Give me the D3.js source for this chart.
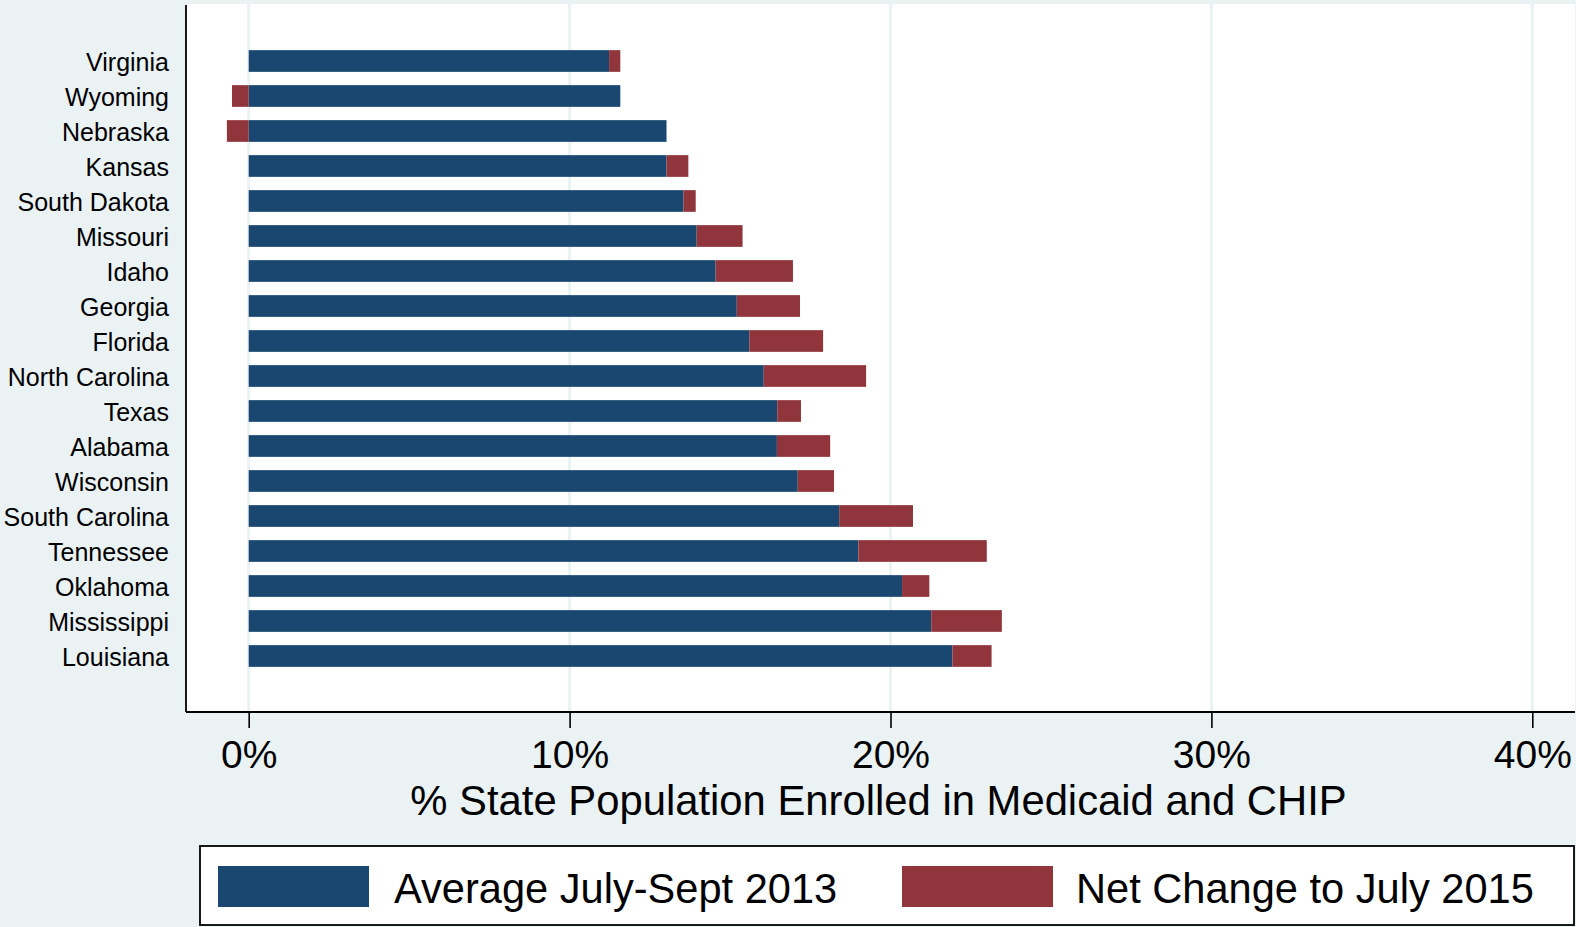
<!DOCTYPE html>
<html>
<head>
<meta charset="utf-8">
<script src="https://cdn.jsdelivr.net/npm/d3@7"></script>
<style>
  body { margin: 0; background: #eaf2f3; }
  svg { display: block; font-family: "Liberation Sans", Arial, sans-serif; }
</style>
</head>
<body>
<div class="chart"></div>
<script>
const states = [
  "Virginia", "Wyoming", "Nebraska", "Kansas", "South Dakota", "Missouri",
  "Idaho", "Georgia", "Florida", "North Carolina", "Texas", "Alabama",
  "Wisconsin", "South Carolina", "Tennessee", "Oklahoma", "Mississippi", "Louisiana"
];
// % of state population enrolled, average July-Sept 2013
const avg2013 = [
  11.23, 11.58, 13.02, 13.02, 13.55, 13.96,
  14.55, 15.21, 15.60, 16.05, 16.47, 16.46,
  17.11, 18.40, 19.00, 20.36, 21.27, 21.93
];
// net change to July 2015 (percentage points)
const netChange = [
  0.35, -0.52, -0.68, 0.68, 0.38, 1.43,
  2.41, 1.97, 2.30, 3.19, 0.74, 1.66,
  1.13, 2.30, 4.00, 0.85, 2.20, 1.22
];
const xTicks = [0, 10, 20, 30, 40];
const seriesNames = ["Average July-Sept 2013", "Net Change to July 2015"];
const seriesColors = ["#1a476f", "#90353b"];

const width = 1576;
const height = 927;

const plot = { left: 186, right: 1575, top: 4, bottom: 712 };

const rows = states.map((s, i) => ({ state: s, base: avg2013[i], change: netChange[i] }));

const x = d3.scaleLinear().domain([0, 40]).range([248.7, 1532.3]);
const y = d3.scaleBand()
  .domain(states)
  .range([43.5, 673.5])
  .paddingInner(0.38)
  .paddingOuter(0.19);

const stack = d3.stack()
  .keys(["base", "change"])
  .offset(d3.stackOffsetDiverging);
const layers = stack(rows);

const svg = d3.select(".chart").append("svg")
  .attr("width", width)
  .attr("height", height);

svg.append("rect")
  .attr("width", width).attr("height", height)
  .attr("fill", "#eaf2f3");

// plot area
svg.append("rect")
  .attr("x", plot.left).attr("y", plot.top)
  .attr("width", plot.right - plot.left)
  .attr("height", plot.bottom - plot.top)
  .attr("fill", "#fff");

// grid lines
svg.append("g")
  .selectAll("line")
  .data(xTicks)
  .join("line")
  .attr("x1", d => x(d)).attr("x2", d => x(d))
  .attr("y1", plot.top).attr("y2", plot.bottom)
  .attr("stroke", "#eaf2f3")
  .attr("stroke-width", 3);

// bars
svg.append("g")
  .selectAll("g")
  .data(layers)
  .join("g")
  .attr("fill", (d, i) => seriesColors[i])
  .selectAll("rect")
  .data(d => d)
  .join("rect")
  .attr("x", d => x(Math.min(d[0], d[1])))
  .attr("width", d => Math.abs(x(d[1]) - x(d[0])))
  .attr("y", d => y(d.data.state))
  .attr("height", y.bandwidth());

// category labels
svg.append("g")
  .selectAll("text")
  .data(states)
  .join("text")
  .attr("x", 169)
  .attr("y", d => y(d) + y.bandwidth() / 2 + 1)
  .attr("dy", "0.35em")
  .attr("text-anchor", "end")
  .attr("font-size", 25)
  .attr("fill", "#000")
  .text(d => d);

// x axis
const xAxis = svg.append("g")
  .attr("transform", `translate(0,${plot.bottom})`)
  .call(d3.axisBottom(x).tickValues(xTicks).tickFormat(d => d + "%").tickSize(16).tickSizeOuter(0));
xAxis.select(".domain").remove();
xAxis.selectAll(".tick line").attr("stroke", "#000").attr("stroke-width", 1.6);
xAxis.selectAll(".tick text")
  .attr("y", 56)
  .attr("dy", null)
  .attr("font-size", 39)
  .attr("font-family", "Liberation Sans, Arial, sans-serif")
  .attr("fill", "#000");

// axis lines
svg.append("line")
  .attr("x1", plot.left).attr("x2", plot.right)
  .attr("y1", plot.bottom).attr("y2", plot.bottom)
  .attr("stroke", "#000").attr("stroke-width", 1.8);
svg.append("line")
  .attr("x1", plot.left).attr("x2", plot.left)
  .attr("y1", plot.top + 1).attr("y2", plot.bottom)
  .attr("stroke", "#000").attr("stroke-width", 1.8);

// axis title
svg.append("text")
  .attr("x", 878.5)
  .attr("y", 815)
  .attr("text-anchor", "middle")
  .attr("font-size", 41.8)
  .attr("fill", "#000")
  .text("% State Population Enrolled in Medicaid and CHIP");

// legend
const legend = svg.append("g");
legend.append("rect")
  .attr("x", 200).attr("y", 846)
  .attr("width", 1374).attr("height", 79)
  .attr("fill", "#fff")
  .attr("stroke", "#000")
  .attr("stroke-width", 1.8);

const legendX = [218, 902];
const items = legend.selectAll("g.item")
  .data(seriesNames)
  .join("g")
  .attr("class", "item")
  .attr("transform", (d, i) => `translate(${legendX[i]},866)`);
items.append("rect")
  .attr("width", 151).attr("height", 41)
  .attr("fill", (d, i) => seriesColors[i]);
items.append("text")
  .attr("x", (d, i) => [176, 174][i])
  .attr("y", 22)
  .attr("dy", "0.35em")
  .attr("font-size", 41.6)
  .attr("fill", "#000")
  .text(d => d);
</script>
</body>
</html>
